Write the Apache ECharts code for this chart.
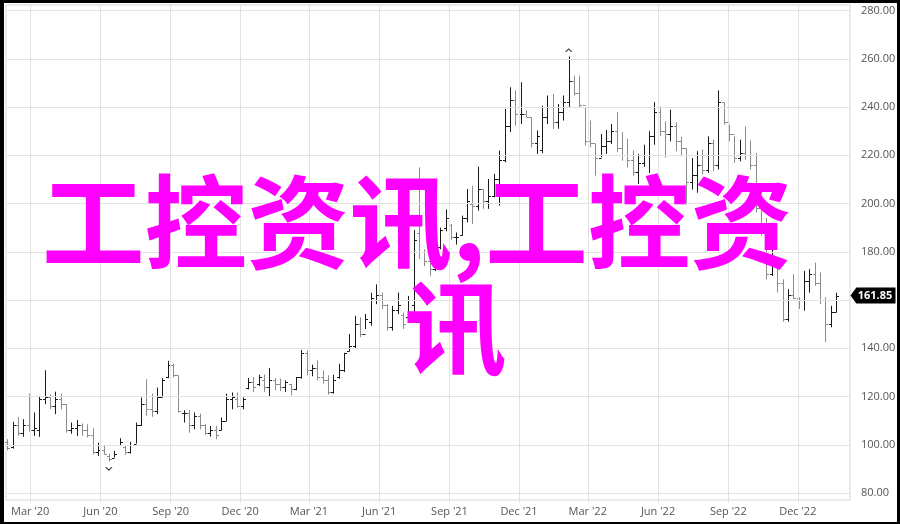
<!DOCTYPE html>
<html><head><meta charset="utf-8">
<script src="https://cdn.jsdelivr.net/npm/echarts@6/dist/echarts.min.js"></script>
<style>
html,body{margin:0;padding:0;background:#fff;}
#c{position:absolute;left:0;top:0;width:900px;height:524px;}
#frame{position:absolute;left:0;top:0;width:900px;height:524px;box-sizing:border-box;border-style:solid;border-color:#000;border-width:3px 3px 2px 4px;pointer-events:none;}
</style></head>
<body>
<div id="c"></div><div id="frame"></div>
<script>
var dates = [
'2020-01-31','2020-02-07','2020-02-14','2020-02-21','2020-02-28','2020-03-06','2020-03-13','2020-03-20','2020-03-27',
'2020-04-03','2020-04-10','2020-04-17','2020-04-24','2020-05-01','2020-05-08','2020-05-15','2020-05-22','2020-05-29',
'2020-06-05','2020-06-12','2020-06-19','2020-06-26','2020-07-03','2020-07-10','2020-07-17','2020-07-24','2020-07-31',
'2020-08-07','2020-08-14','2020-08-21','2020-08-28','2020-09-04','2020-09-11','2020-09-18','2020-09-25',
'2020-10-02','2020-10-09','2020-10-16','2020-10-23','2020-10-30','2020-11-06','2020-11-13','2020-11-20','2020-11-27',
'2020-12-04','2020-12-11','2020-12-18','2020-12-25',
'2021-01-01','2021-01-08','2021-01-15','2021-01-22','2021-01-29','2021-02-05','2021-02-12','2021-02-19','2021-02-26',
'2021-03-05','2021-03-12','2021-03-19','2021-03-26','2021-04-02','2021-04-09','2021-04-16','2021-04-23','2021-04-30',
'2021-05-07','2021-05-14','2021-05-21','2021-05-28','2021-06-04','2021-06-11','2021-06-18','2021-06-25',
'2021-07-02','2021-07-09','2021-07-16','2021-07-23','2021-07-30','2021-08-06','2021-08-13','2021-08-20','2021-08-27',
'2021-09-03','2021-09-10','2021-09-17','2021-09-24','2021-10-01','2021-10-08','2021-10-15','2021-10-22','2021-10-29',
'2021-11-05','2021-11-12','2021-11-19','2021-11-26','2021-12-03','2021-12-10','2021-12-17','2021-12-24','2021-12-31',
'2022-01-07','2022-01-14','2022-01-21','2022-01-28','2022-02-04','2022-02-11','2022-02-18','2022-02-25',
'2022-03-04','2022-03-11','2022-03-18','2022-03-25','2022-04-01','2022-04-08','2022-04-15','2022-04-22','2022-04-29',
'2022-05-06','2022-05-13','2022-05-20','2022-05-27','2022-06-03','2022-06-10','2022-06-17','2022-06-24',
'2022-07-01','2022-07-08','2022-07-15','2022-07-22','2022-07-29','2022-08-05','2022-08-12','2022-08-19','2022-08-26',
'2022-09-02','2022-09-09','2022-09-16','2022-09-23','2022-09-30','2022-10-07','2022-10-14','2022-10-21','2022-10-28',
'2022-11-04','2022-11-11','2022-11-18','2022-11-25','2022-12-02','2022-12-09','2022-12-16','2022-12-23','2022-12-30',
'2023-01-06','2023-01-13','2023-01-20'
];
var opens = [
101,99,108,105,108,106,106,119,120,116,119,117,106,107,108,106,104,97,98,95.5,
94.7,100,99,97,100.5,108,117,115,114,120,128,133,129,113,113,108,112,108,105,106,
106,110,119,119,116,123.5,126,125,127,124,127,125,124,125,123,128,138,131,132,128,
127,122,128,131,139,141,150,146,151,160,162,158,149,156,154,153,158,188,180,176,
173,182,190,191,186,187,194,200,199,206,201,203,210,218,232,243,237,237,236,225,
222,236,240,234,238,242,251,246,241,226,225,219,224,226,230,223,220,218,213,217,
220,228,238,230,229,232,226,223,209,212,216,214,225,216,242,234,229,219,221,220,
216,198,188,171,174,167,152,162,161,160,168,171,167,160,150,155
];
var highs = [
102.3,109.5,111.6,110.6,121.2,113.4,120.3,130.9,121.0,122.0,121.2,116.8,109.2,110.3,108.8,108.5,106.9,100.9,100.0,96.3,
97.5,102.7,99.5,101.2,109.2,119.6,127.2,121.2,123.7,127.6,134.8,133.7,128.6,114.3,114.3,113.4,112.9,108.5,107.8,107.8,
111.3,121.2,121.7,121.7,119.6,127.7,128.1,129.1,129.1,131.8,127.7,127.4,126.7,125.3,128.1,139.3,139.1,133.2,135.0,130.8,
128.8,129.1,133.6,138.1,145.9,153.5,152.8,154.2,163.1,166.5,163.1,158.3,157.6,163.1,154.8,161.7,189,215,181,178,
184,190,197.5,191.5,188,195,206,207.4,215.3,206,210.2,212.3,222,239.3,248.2,246.9,250.3,238.6,235.8,230.3,
240.6,244.8,245.5,241.3,244.8,261,253,253,240,234.4,224.7,228.9,230.5,233,237.9,229.6,226.8,222,220.6,224.4,
230,242,240.3,234,238.9,233.7,227.6,223,218.9,221.7,222.4,227.9,226.5,246.9,241.7,232.7,227.9,226.5,232,226.2,
221,199,194,181,175.5,168.6,164.5,170.7,161.1,172.1,172.8,175.5,171.4,161.1,157.6,163.1
];
var lows = [
97.7,98.4,103.7,103.3,105.5,103.7,103.3,116.8,114.7,112.7,114.7,105.0,104.6,103.7,103.7,103.0,96.0,95.4,96.0,93.0,
94.7,99.5,95.8,96.3,100.5,107.8,112.0,111.6,112.7,119.6,127.6,127.9,113.4,109.2,105.0,106.4,106.4,104.1,103.4,102.3,
106.0,109.9,114.7,115.4,114.7,123.0,121.9,124.4,121.9,119.9,122.6,122.2,121.9,120.5,122.6,127.4,128.8,128.4,126.7,125.3,
120.8,121.2,127.4,130.2,138.7,139.8,144.6,148.0,149.4,158.3,156.2,147.3,147.3,154.2,148.0,152.8,153,177,174,170,
172,181,188.5,185,183,186.7,192.2,191.5,197,197.8,197.8,202.6,199.1,217.1,229.6,232.3,233,235.8,223.3,220.6,
220.9,233,231,231,234.4,240,244.8,240,224,223.3,211.6,219.2,220.6,224.7,221.3,217.8,215,211.6,208.1,215.2,
212.7,224.4,227.9,219,225.8,221.7,219.6,199.6,205.8,204.5,212,212.7,213.4,214.1,232.7,225.8,216.9,217.5,218.2,214.1,
196.2,186.6,168.6,170,163.1,151,151,160.4,156.3,155.6,163.1,165.9,158.3,142.5,148.7,154.9
];
var closes = [
98.5,108,105,108,106,107,119,120,116,119,117,106,107,108,106,104,97,98,96,94,
96,101,97,100,108,117,115,114,120,127,133,129,114,113,108,112,108,105,106,104,
110,119,120,116,119,126,124,128,124,127,125,124,126,123,128,138,131,132,128,127,
122,127,131,138,141,150,146,152,161,162,158,149,156,158,150,160,185,180,176,173,
182,189,194,186,186,194,201,199,206,201,203,210,218,232,243,237,237,236,225,228,
236,240,234,238,242,251,246,241,226,225,219,224,226,230,223,220,218,213,217,220,
228,238,230,229,232,226,223,209,212,216,214,225,216,242,234,229,219,221,220,216,
198,188,171,177,167,152,162,161,160,168,171,167,160,150,155,161.85
];
var quarterTicks = ['2020-03-01','2020-06-01','2020-09-01','2020-12-01','2021-03-01','2021-06-01','2021-09-01','2021-12-01','2022-03-01','2022-06-01','2022-09-01','2022-12-01'];
var priceTicks = [80,100,120,140,160,180,200,220,240,260,280];
var monthNames = ['Jan','Feb','Mar','Apr','May','Jun','Jul','Aug','Sep','Oct','Nov','Dec'];
var lastPrice = 161.85;
var overlayLine1 = '工控资讯,工控资';
var overlayLine2 = '讯';

var ts = function(s){ return Date.parse(s + 'T00:00:00Z'); };
var ohlc = dates.map(function(d,i){ return [ts(d), opens[i], highs[i], lows[i], closes[i]]; });
var quarterTs = quarterTicks.map(ts);
var xMin = Date.parse('2020-01-29T08:00:00Z');
var xMax = Date.parse('2023-02-07T08:00:00Z');
var lowIdx = 19, highIdx = 105;

var chart = echarts.init(document.getElementById('c'), null, {renderer:'canvas'});
var gridColor = '#e2e2e2';
var labelColor = '#555';
var font = '"Open Sans", "Noto Sans", sans-serif';

function renderItem(params, api){
  var x = api.value(0);
  var o = api.value(1), h = api.value(2), l = api.value(3), c = api.value(4);
  var ph = api.coord([x, h]);
  var pl = api.coord([x, l]);
  var po = api.coord([x, o]);
  var pc = api.coord([x, c]);
  var px = Math.round(ph[0]) + 0.5;
  var col = c >= o ? '#1a1a1a' : '#8c8c8c';
  var st = {stroke: col, lineWidth: 1};
  return {type:'group', children:[
    {type:'line', shape:{x1:px, y1:ph[1], x2:px, y2:pl[1]}, style:st},
    {type:'line', shape:{x1:px-2.5, y1:Math.round(po[1])+0.5, x2:px, y2:Math.round(po[1])+0.5}, style:st},
    {type:'line', shape:{x1:px, y1:Math.round(pc[1])+0.5, x2:px+2.5, y2:Math.round(pc[1])+0.5}, style:st}
  ]};
}

var gridLines = [];
priceTicks.forEach(function(v){ gridLines.push({yAxis: v}); });
quarterTs.forEach(function(v){ gridLines.push({xAxis: v}); });

chart.setOption({
  animation: false,
  grid: {left: 6, right: 50, top: 5, bottom: 24, show: true, borderColor: '#d6d6d6', borderWidth: 1, backgroundColor: 'transparent'},
  xAxis: {
    type: 'value',
    min: xMin,
    max: xMax,
    axisLine: {show: false},
    splitLine: {show: false},
    axisTick: {show: true, customValues: quarterTs, length: 3, lineStyle: {color: gridColor}},
    axisLabel: {
      customValues: quarterTs,
      margin: 6,
      color: labelColor, fontSize: 11, fontFamily: font,
      formatter: function(v){ var d = new Date(v); return monthNames[d.getUTCMonth()] + " '" + String(d.getUTCFullYear()).slice(2); }
    }
  },
  yAxis: {
    type: 'value',
    position: 'right',
    min: 77.1, max: 282.32,
    axisLine: {show: false},
    axisTick: {show: false},
    splitLine: {show: false},
    axisLabel: {customValues: priceTicks, margin: 11, color: labelColor, fontSize: 11, fontFamily: font,
      formatter: function(v){ return Number(v).toFixed(2); }}
  },
  series: [
    {
      type: 'line', data: [], silent: true, z: 1,
      markLine: {silent: true, symbol: ['none','none'], label: {show: false},
        lineStyle: {color: gridColor, width: 1, type: 'solid'}, data: gridLines, animation: false}
    },
    {
      type: 'custom', z: 3, renderItem: renderItem, data: ohlc,
      encode: {x: 0, y: [1,2,3,4]},
      clip: false,
      markPoint: {
        silent: true,
        data: [
          {coord: [ohlc[lowIdx][0], lows[lowIdx]], symbol: 'path://M0,0L4,3L8,0', symbolSize: [6,3], symbolOffset: [0, 7],
            itemStyle: {color: 'none', borderColor: '#333', borderWidth: 1}, label: {show: false}},
          {coord: [ohlc[highIdx][0], highs[highIdx]], symbol: 'path://M0,3L4,0L8,3', symbolSize: [6,3], symbolOffset: [0, -6],
            itemStyle: {color: 'none', borderColor: '#333', borderWidth: 1}, label: {show: false}},
          {coord: [xMax, lastPrice], symbol: 'path://M0,8L6,0L46,0L46,16L6,16Z', symbolSize: [45,16],
            symbolOffset: [23, 0], itemStyle: {color: '#000'},
            label: {show: true, position: 'inside', offset: [2, 0], formatter: lastPrice.toFixed(2), color: '#fff', fontWeight: 'bold', fontSize: 11, fontFamily: font}}
        ]
      }
    }
  ],
  graphic: [
    {type: 'text', left: 42, top: 171, z: 100, silent: true,
      style: {text: overlayLine1, font: 'bold 102.5px "Noto Sans CJK SC"', fill: '#ff00ff'}},
    {type: 'text', left: 404, top: 277, z: 100, silent: true,
      style: {text: overlayLine2, font: 'bold 102.5px "Noto Sans CJK SC"', fill: '#ff00ff'}}
  ]
});
</script>
</body></html>
